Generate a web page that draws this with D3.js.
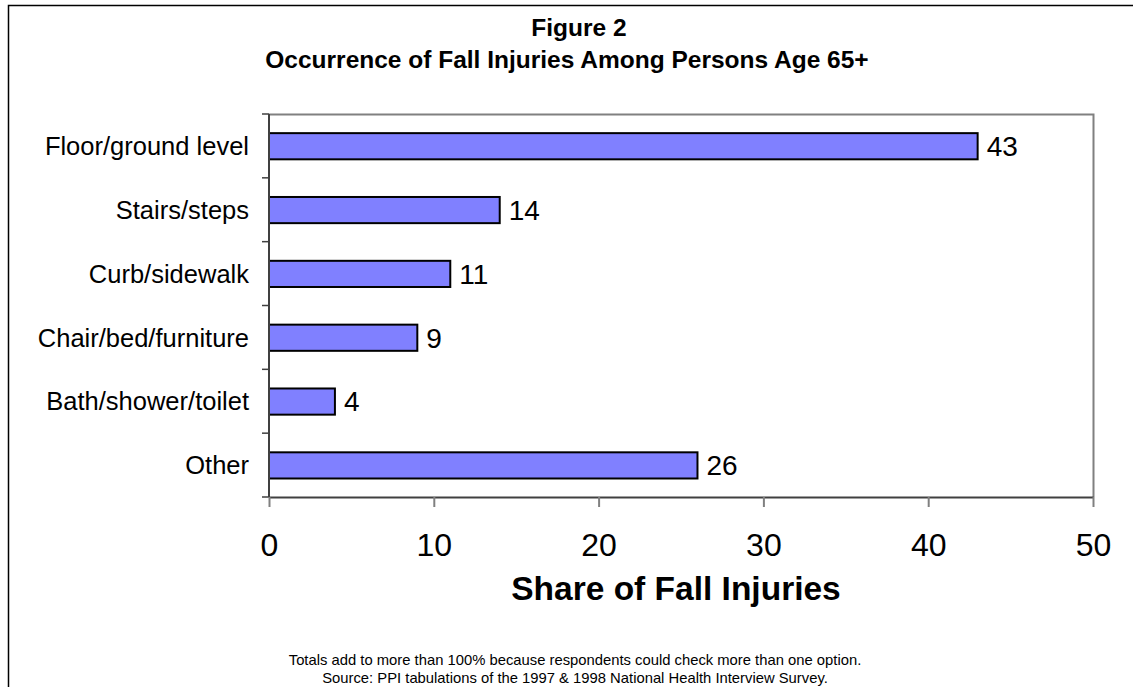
<!DOCTYPE html>
<html>
<head>
<meta charset="utf-8">
<script src="https://cdn.jsdelivr.net/npm/d3@7"></script>
<style>
  html, body { margin: 0; padding: 0; background: #fff; overflow: hidden; }
  text { font-family: Arial, "Liberation Sans", sans-serif; fill: #000; }
</style>
</head>
<body>
<svg id="chart"></svg>
<script>
// data
const categories = ['Floor/ground level', 'Stairs/steps', 'Curb/sidewalk',
  'Chair/bed/furniture', 'Bath/shower/toilet', 'Other'];
const shares = [43, 14, 11, 9, 4, 26];
const xTicks = [0, 10, 20, 30, 40, 50];
const titleLines = ['Figure 2', 'Occurrence of Fall Injuries Among Persons Age 65+'];
const notes = ['Totals add to more than 100% because respondents could check more than one option.',
  'Source:  PPI tabulations of the 1997 & 1998 National Health Interview Survey.'];

const width = 1133;
const height = 687;
const svg = d3.select('#chart').attr('width', width).attr('height', height);

// plot area
const plot = { left: 269, right: 1093, top: 114, bottom: 497 };
const barFill = '#8080ff';
const frameGrey = '#808080';
const axisDark = '#404040';

const data = categories.map((c, i) => ({ cat: c, v: shares[i] }));

const x = d3.scaleLinear().domain([0, 50]).range([plot.left, plot.right]);
const y = d3.scaleBand().domain(categories).range([plot.top, plot.bottom]).padding(0);

// outer border (only top and left edges show in the picture)
svg.append('rect')
  .attr('x', 8.5).attr('y', 5.5)
  .attr('width', 1400).attr('height', 1000)
  .style('fill', 'none').style('stroke', '#000').style('stroke-width', 1.5);

// titles
svg.append('text')
  .attr('x', 579).attr('y', 36)
  .attr('text-anchor', 'middle')
  .style('font-weight', 'bold').style('font-size', '24.5px')
  .text(titleLines[0]);
svg.append('text')
  .attr('x', 567).attr('y', 68)
  .attr('text-anchor', 'middle')
  .style('font-weight', 'bold').style('font-size', '24.5px')
  .text(titleLines[1]);

// plot frame: grey top and right
svg.append('path')
  .attr('d', `M${plot.left},${plot.top + 0.5} H${plot.right + 0.5} V${plot.bottom}`)
  .style('fill', 'none').style('stroke', frameGrey).style('stroke-width', 2);

// bars
svg.append('g')
  .selectAll('rect')
  .data(data)
  .enter()
  .append('rect')
  .attr('x', x(0))
  .attr('y', (d) => y(d.cat) + y.bandwidth() * 0.3)
  .attr('width', (d) => x(d.v) - x(0))
  .attr('height', y.bandwidth() * 0.41)
  .style('fill', barFill)
  .style('stroke', '#000')
  .style('stroke-width', 2);

// value labels
svg.append('g')
  .selectAll('text')
  .data(data)
  .enter()
  .append('text')
  .attr('x', (d) => x(d.v) + 9)
  .attr('y', (d) => y(d.cat) + y.bandwidth() * 0.505)
  .attr('dy', '0.35em')
  .style('font-size', '28px')
  .text((d) => d.v);

// category axis: line at left, ticks on band boundaries
const yAxis = svg.append('g');
yAxis.append('line')
  .attr('x1', plot.left).attr('x2', plot.left)
  .attr('y1', plot.top).attr('y2', plot.bottom)
  .style('stroke', axisDark).style('stroke-width', 2);
const bounds = categories.map((c) => y(c)).concat([plot.bottom]);
yAxis.selectAll('line.tick')
  .data(bounds)
  .enter()
  .append('line')
  .attr('class', 'tick')
  .attr('x1', plot.left - 7).attr('x2', plot.left)
  .attr('y1', (d) => d).attr('y2', (d) => d)
  .style('stroke', axisDark).style('stroke-width', 1.5);
yAxis.selectAll('text')
  .data(categories)
  .enter()
  .append('text')
  .attr('x', plot.left - 20)
  .attr('y', (d) => y(d) + y.bandwidth() * 0.505)
  .attr('dy', '0.35em')
  .attr('text-anchor', 'end')
  .style('font-size', '25.5px')
  .text((d) => d);

// value axis at the bottom
const xAxis = svg.append('g')
  .attr('transform', `translate(0,${plot.bottom})`)
  .call(d3.axisBottom(x).tickValues(xTicks).tickSize(10).tickSizeOuter(0).tickPadding(26));
xAxis.select('.domain').style('stroke', axisDark).style('stroke-width', 2);
xAxis.selectAll('.tick line').style('stroke', frameGrey).style('stroke-width', 2);
xAxis.selectAll('.tick text')
  .style('font-family', 'Arial, "Liberation Sans", sans-serif')
  .style('font-size', '32px')
  .style('fill', '#000');

// axis title
svg.append('text')
  .attr('x', 676).attr('y', 600)
  .attr('text-anchor', 'middle')
  .style('font-weight', 'bold').style('font-size', '33.5px')
  .text('Share of Fall Injuries');

// footnotes
svg.selectAll('text.note')
  .data(notes)
  .enter()
  .append('text')
  .attr('class', 'note')
  .attr('x', 575)
  .attr('y', (_, i) => 665 + i * 17.5)
  .attr('text-anchor', 'middle')
  .style('font-size', '14.8px')
  .text((d) => d);
</script>
</body>
</html>
